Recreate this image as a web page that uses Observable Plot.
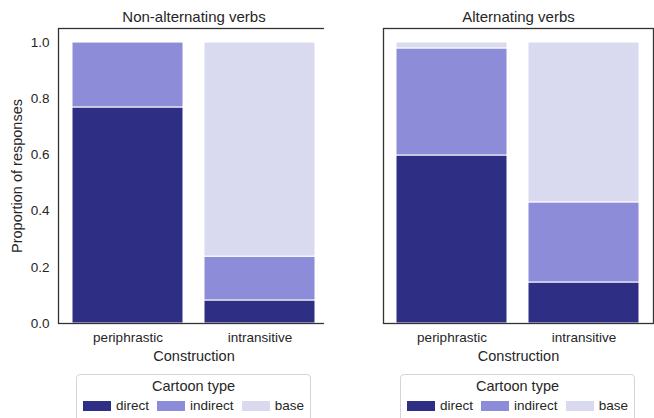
<!DOCTYPE html>
<html>
<head>
<meta charset="utf-8">
<script src="https://cdn.jsdelivr.net/npm/d3@7"></script>
<script src="https://cdn.jsdelivr.net/npm/@observablehq/plot@0.6"></script>
<style>
  html, body { margin: 0; padding: 0; background: #fff; }
  body { width: 654px; height: 418px; position: relative; overflow: hidden; font-family: "Liberation Sans", Arial, sans-serif; color: #262626; }
  .panel { position: absolute; top: 0; }
  .legend { position: absolute; top: 374px; width: 235px; height: 60px; border: 1px solid #d5d5d5; border-radius: 4px; box-sizing: border-box; background: #fff; }
  .legend .ttl { text-align: center; font-size: 14.5px; margin-top: 3px; line-height: 17px; }
  .legend .items { display: flex; justify-content: center; align-items: center; margin-top: 3px; font-size: 13.5px; line-height: 15px; }
  .legend .sw { display: inline-block; width: 28px; height: 10px; margin-right: 5px; }
  .legend .it { display: flex; align-items: center; margin: 0 4px; }
</style>
</head>
<body>
<div id="left" class="panel" style="left:0"></div>
<div id="right" class="panel" style="left:324px"></div>
<div id="legL" class="legend" style="left:76px"></div>
<div id="legR" class="legend" style="left:400px"></div>
<script>
const constructions = ["periphrastic", "intransitive"];
const cartoonTypes = ["direct", "indirect", "base"];
const colors = ["#2e2e84", "#8c8cd8", "#d9d9f0"];
const panelTitles = ["Non-alternating verbs", "Alternating verbs"];
// proportions [periphrastic, intransitive] per cartoon type
const nonAltDirect = [0.769, 0.082];
const nonAltIndirect = [0.231, 0.156];
const nonAltBase = [0.0, 0.762];
const altDirect = [0.598, 0.146];
const altIndirect = [0.381, 0.285];
const altBase = [0.021, 0.569];
const yTicks = [0, 0.2, 0.4, 0.6, 0.8, 1.0];

function rows(d, i, b) {
  const out = [];
  constructions.forEach((c, k) => {
    out.push({construction: c, type: "direct", value: d[k]});
    out.push({construction: c, type: "indirect", value: i[k]});
    out.push({construction: c, type: "base", value: b[k]});
  });
  return out;
}

function panel(data, title, showY) {
  return Plot.plot({
    width: 330,
    height: 369,
    marginTop: 28,
    marginBottom: 46,
    marginLeft: showY ? 58 : 59,
    marginRight: 1,
    style: {fontFamily: '"Liberation Sans", Arial, sans-serif', fontSize: "13.5px", color: "#262626", background: "#fff"},
    x: {domain: constructions, paddingInner: 0.158, paddingOuter: 0.098, label: "Construction", labelAnchor: "center", labelOffset: 37, tickSize: 0, tickPadding: 9},
    y: {domain: [0, 1.05], ticks: showY ? yTicks : [], tickFormat: d3.format(".1f"), label: showY ? "Proportion of responses" : null, labelArrow: false, labelAnchor: "center", labelOffset: 47, tickSize: 0, tickPadding: 9, axis: showY ? "left" : null},
    color: {domain: cartoonTypes, range: colors},
    marks: [
      Plot.barY(data, {x: "construction", y: "value", fill: "type", order: cartoonTypes, stroke: "white", strokeWidth: 1, inset: 0}),
      Plot.frame({stroke: "#333", strokeWidth: 1.3}),
      Plot.text([title], {frameAnchor: "top", dy: -17, text: d => d, fontSize: 15, fill: "#262626"})
    ]
  });
}

const left = panel(rows(nonAltDirect, nonAltIndirect, nonAltBase), panelTitles[0], true);
const right = panel(rows(altDirect, altIndirect, altBase), panelTitles[1], false);
document.getElementById("left").appendChild(left);
document.getElementById("right").appendChild(right);

for (const svg of [left, right]) {
  svg.querySelectorAll("[aria-label='x-axis label'], [aria-label='y-axis label']").forEach(g => {
    g.setAttribute("font-size", "14.5");
    g.querySelectorAll("text").forEach(t => { t.setAttribute("font-size", "14.5"); t.textContent = t.textContent.replace(/\s*[↑→]\s*/g, ""); });
  });
}

function legend(el) {
  const ttl = document.createElement("div");
  ttl.className = "ttl";
  ttl.textContent = "Cartoon type";
  el.appendChild(ttl);
  const items = document.createElement("div");
  items.className = "items";
  cartoonTypes.forEach((t, i) => {
    const it = document.createElement("span");
    it.className = "it";
    const sw = document.createElement("span");
    sw.className = "sw";
    sw.style.background = colors[i];
    it.appendChild(sw);
    it.appendChild(document.createTextNode(t));
    items.appendChild(it);
  });
  el.appendChild(items);
}
legend(document.getElementById("legL"));
legend(document.getElementById("legR"));
</script>
</body>
</html>
